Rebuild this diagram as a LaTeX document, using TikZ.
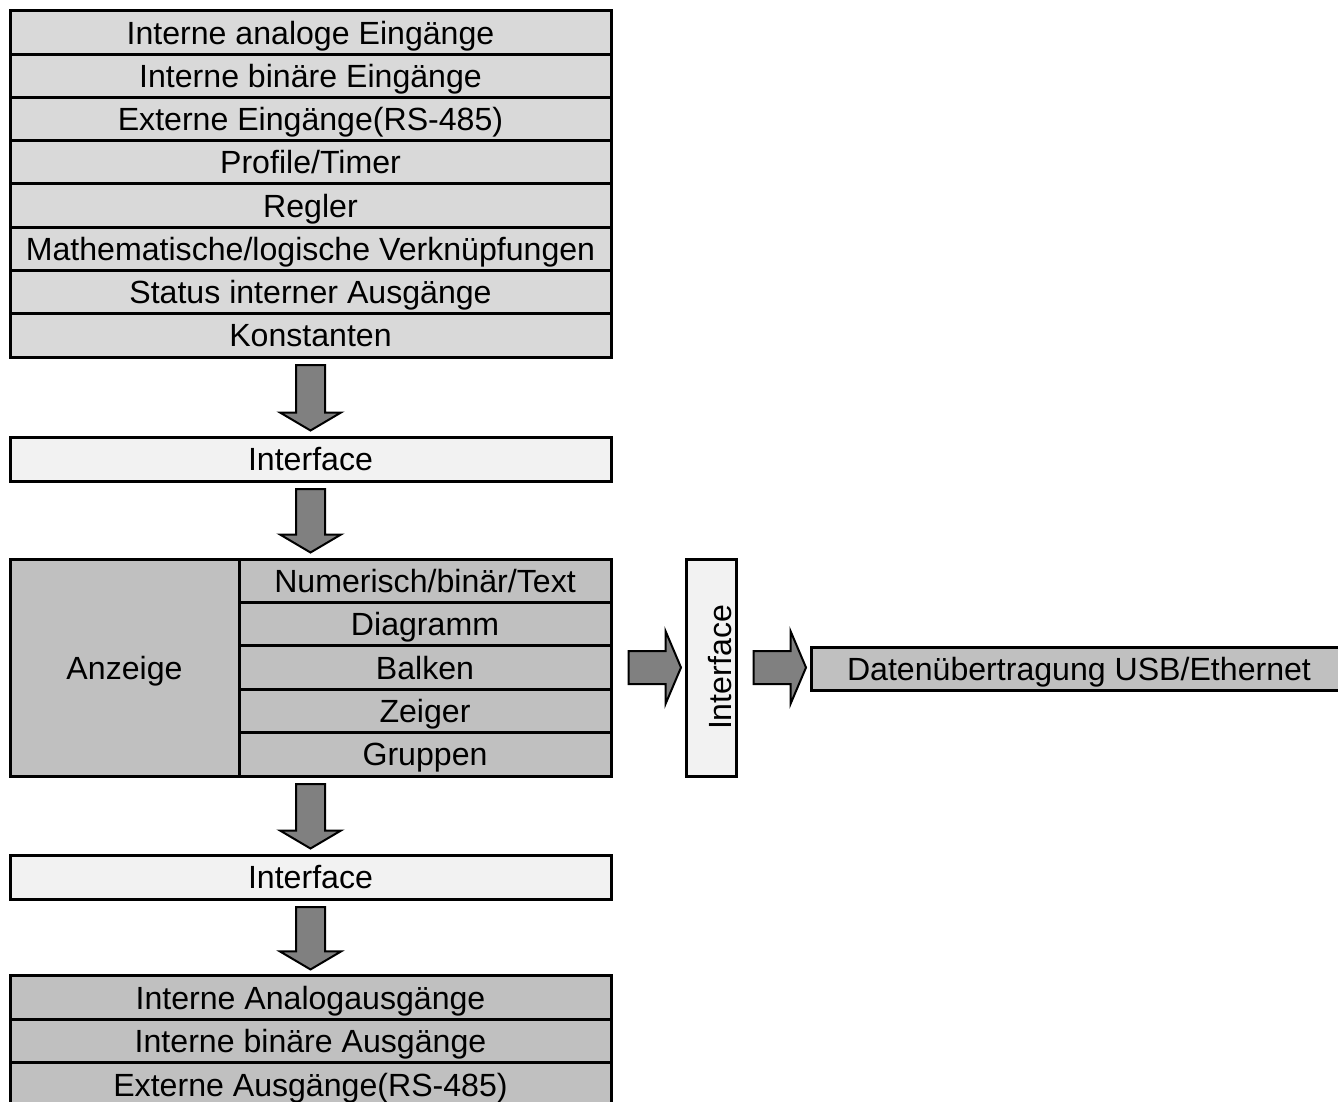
\documentclass[tikz,border=0pt]{standalone}
\usepackage{fontspec}
\setmainfont{Liberation Sans}
\usetikzlibrary{calc}
\definecolor{topfill}{HTML}{D9D9D9}
\definecolor{ifacefill}{HTML}{F2F2F2}
\definecolor{midfill}{HTML}{C0C0C0}
\definecolor{arrowfill}{HTML}{808080}
\newcommand\fatdown[2]{%
  \draw[fat] let \p1=(#1.south), \p2=(#2.north) in
    (\x1-14.5pt,\y1-6.5pt) -- (\x1-14.5pt,\y2+23pt) -- (\x1-30.5pt,\y2+23pt) --
    (\x1,\y2+5pt) -- (\x1+30.5pt,\y2+23pt) -- (\x1+14.5pt,\y2+23pt) --
    (\x1+14.5pt,\y1-6.5pt) -- cycle;}
\newcommand\fatright[3]{%
  \draw[fat] let \p1=(#1), \p2=(#2) in
    (\x1+16pt,\y1+16.5pt) -- (\x2-19pt,\y1+16.5pt) -- (\x2-19pt,\y1+36.5pt) --
    (\x2-3.5pt,\y1) -- (\x2-19pt,\y1-36.5pt) -- (\x2-19pt,\y1-16.5pt) --
    (\x1+16pt,\y1-16.5pt) -- cycle;}
\begin{document}
\begin{tikzpicture}[x=1pt,y=-1pt,
  box/.style={draw=black, line width=3pt, inner sep=0pt, text height=23pt, text depth=0pt,
    font=\fontsize{32.1}{38}\selectfont},
  toprow/.style={box, fill=topfill, minimum width=601pt, minimum height=43.25pt},
  iface/.style={box, fill=ifacefill, minimum width=601pt, minimum height=44pt},
  anzrow/.style={box, fill=midfill, minimum width=372pt, minimum height=43.4pt},
  botrow/.style={box, fill=midfill, minimum width=601pt, minimum height=43.5pt},
  fat/.style={draw=black, line width=2pt, fill=arrowfill, line join=miter}]
\useasboundingbox (0,0) rectangle (1338,1101);
\clip (0,0) rectangle (1338,1101);

% top block
\node[toprow] (r1) at (310.5,32.6) {Interne analoge Eingänge};
\node[toprow] (r2) at (310.5,75.9) {Interne binäre Eingänge};
\node[toprow] (r3) at (310.5,119.1) {Externe Eingänge(RS-485)};
\node[toprow] (r4) at (310.5,162.4) {Profile/Timer};
\node[toprow] (r5) at (310.5,205.6) {Regler};
\node[toprow] (r6) at (310.5,248.9) {Mathematische/logische Verknüpfungen};
\node[toprow] (r7) at (310.5,292.1) {Status interner Ausgänge};
\node[toprow] (r8) at (310.5,335.4) {Konstanten};

% interface 1
\node[iface] (if1) at (310.5,459) {Interface};

% Anzeige block
\node[box, fill=midfill, minimum width=601pt, minimum height=217pt] (anz) at (310.5,667.5) {};
\node[box, fill=midfill, minimum width=229pt, minimum height=217pt] (anzl) at (124.5,667.5) {Anzeige};
\node[anzrow] (a1) at (425,580.7) {Numerisch/binär/Text};
\node[anzrow] (a2) at (425,624.1) {Diagramm};
\node[anzrow] (a3) at (425,667.5) {Balken};
\node[anzrow] (a4) at (425,710.9) {Zeiger};
\node[anzrow] (a5) at (425,754.3) {Gruppen};

% vertical interface
\node[box, fill=ifacefill, rotate=90, minimum width=217pt, minimum height=50pt,
      text height=40pt] (ifv) at (711,667.5) {Interface};

% data transfer
\node[box, fill=midfill, minimum width=536pt, minimum height=43pt] (dat) at (1079,668.5) {Datenübertragung USB/Ethernet};

% interface 2
\node[iface] (if2) at (310.5,877) {Interface};

% bottom block
\node[botrow] (b1) at (310.5,997.7) {Interne Analogausgänge};
\node[botrow] (b2) at (310.5,1041.2) {Interne binäre Ausgänge};
\node[botrow] (b3) at (310.5,1084.7) {Externe Ausgänge(RS-485)};

% arrows
\fatdown{r8}{if1}
\fatdown{if1}{anz}
\fatdown{anz}{if2}
\fatdown{if2}{b1}
\fatright{anz.east}{ifv.north}{}
\fatright{ifv.south}{dat.west}{}
\end{tikzpicture}
\end{document}
